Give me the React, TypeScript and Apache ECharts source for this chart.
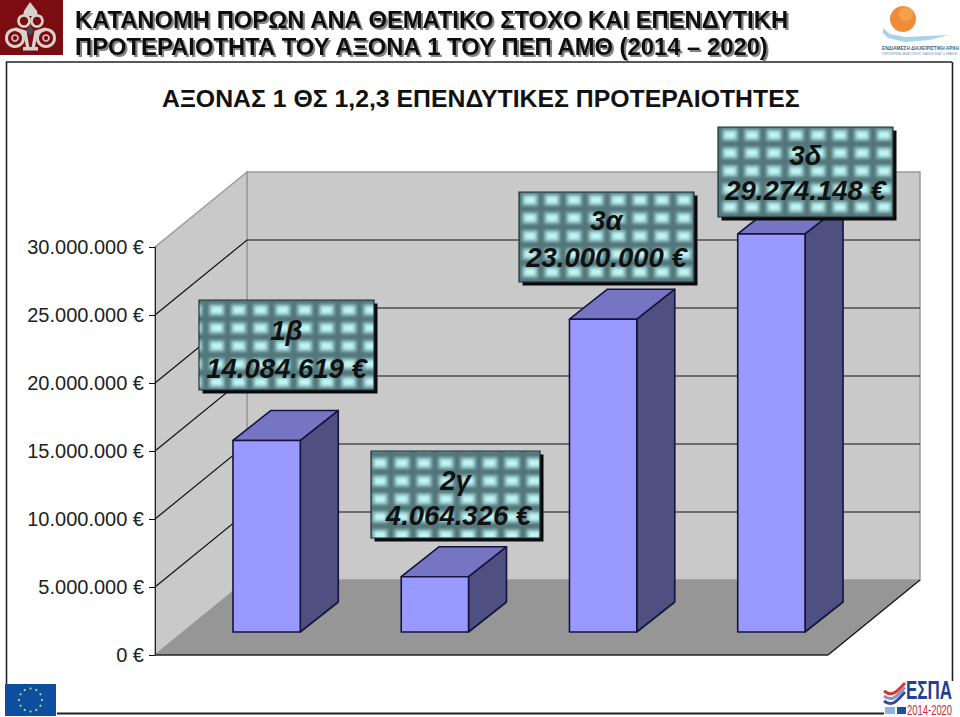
import React, { useEffect, useRef } from "react";
import * as echarts from "echarts";

const categories = ["1β", "2γ", "3α", "3δ"];
const values = [14084619, 4064326, 23000000, 29274148];
const yMax = 30000000;
const yStep = 5000000;
const yTicks = [0, 5000000, 10000000, 15000000, 20000000, 25000000, 30000000];
const headerLines = [
  "ΚΑΤΑΝΟΜΗ ΠΟΡΩΝ ΑΝΑ ΘΕΜΑΤΙΚΟ ΣΤΟΧΟ ΚΑΙ ΕΠΕΝΔΥΤΙΚΗ",
  "ΠΡΟΤΕΡΑΙΟΤΗΤΑ ΤΟΥ ΑΞΟΝΑ 1 ΤΟΥ ΠΕΠ ΑΜΘ (2014 – 2020)",
];
const chartTitle = "ΑΞΟΝΑΣ 1 ΘΣ 1,2,3 ΕΠΕΝΔΥΤΙΚΕΣ ΠΡΟΤΕΡΑΙΟΤΗΤΕΣ";
const authorityLines = ["ΕΝΔΙΑΜΕΣΗ ΔΙΑΧΕΙΡΙΣΤΙΚΗ ΑΡΧΗ", "ΠΕΡΙΦΕΡΕΙΑΣ ΑΝΑΤΟΛΙΚΗΣ ΜΑΚΕΔΟΝΙΑΣ & ΘΡΑΚΗΣ"];

// layout only: x, y, width, height, first line y, second line y, tile centre x, tile centre y, value text shift
const boxLayout = [
  [199, 300, 175, 90, 30, 68, 17.7, 10, 0],
  [371, 451, 169, 87, 29, 64, 9, 12, 3],
  [519, 192, 175, 90, 28, 65, 11, 8, 0],
  [718, 127, 175, 90, 28, 63, 12, 8, 0],
];
const SANS = '"Liberation Sans", Arial, sans-serif';
const WALL_DX = 92;
const WALL_DY = 75;
const BAR_SHIFT_X = 27.5;
const BAR_SHIFT_Y = 23;
const BAR_DX = 38;
const BAR_DY = 30;

const euro = (v: number) => `${String(v).replace(/\B(?=(\d{3})+(?!\d))/g, ".")} €`;

function makeTile(cx: number, cy: number) {
  const w = 22;
  const h = 18;
  const c = document.createElement("canvas");
  c.width = w;
  c.height = h;
  const ctx = c.getContext("2d")!;
  ctx.fillStyle = "#527679";
  ctx.fillRect(0, 0, w, h);
  ctx.filter = "blur(1.8px)";
  for (const ox of [-w, 0, w]) {
    for (const oy of [-h, 0, h]) {
      ctx.fillStyle = "#86b4b6";
      ctx.fillRect(ox + cx - 8, oy + cy - 6, 16, 12);
      ctx.fillStyle = "#bff6f6";
      ctx.fillRect(ox + cx - 5.5, oy + cy - 3.5, 11, 7);
    }
  }
  return c;
}

function ornament(): any[] {
  const ink = "#d8d2cc";
  const ring = (cx: number, cy: number, r: number, lw: number) => ({
    type: "circle",
    shape: { cx, cy, r },
    style: { fill: "none", stroke: ink, lineWidth: lw },
  });
  return [
    { type: "rect", shape: { x: 0, y: 0, width: 63, height: 55 }, style: { fill: "#7b0c12" } },
    { type: "polygon", shape: { points: [[30, 2], [37, 11], [38, 16], [23, 16], [24, 11]] }, style: { fill: ink } },
    ring(24, 21, 5.5, 2.6),
    ring(37, 21, 5.5, 2.6),
    { type: "polygon", shape: { points: [[30, 25], [34, 31], [30, 36], [26, 31]] }, style: { fill: "#4a4a4a" } },
    ring(15, 38, 8.5, 3),
    ring(46, 38, 8.5, 3),
    ring(15, 38, 3, 1.6),
    ring(46, 38, 3, 1.6),
    { type: "polyline", shape: { points: [[15, 29], [25, 32], [28, 49]] }, style: { fill: "none", stroke: ink, lineWidth: 3.4 } },
    { type: "polyline", shape: { points: [[46, 29], [36, 32], [33, 49]] }, style: { fill: "none", stroke: ink, lineWidth: 3.4 } },
    { type: "rect", shape: { x: 23, y: 47, width: 15, height: 3.5 }, style: { fill: ink } },
  ];
}

function logos(): any[] {
  const out: any[] = [...ornament()];
  // managing authority mark
  out.push(
    { type: "circle", shape: { cx: 903, cy: 19, r: 13 }, style: { fill: "#f08b3a" } },
    { type: "circle", shape: { cx: 906, cy: 14, r: 7 }, style: { fill: "#f6a04c" } },
    {
      type: "polygon",
      shape: { points: [[883, 28], [890, 34], [905, 37], [948, 35], [930, 40], [905, 42], [888, 38], [883, 33]] },
      style: { fill: "#a9d3e8" },
    },
    {
      type: "text",
      x: 882,
      y: 46,
      style: { text: authorityLines[0], font: `bold 4.7px ${SANS}`, fill: "#3a5f8a" },
    },
    {
      type: "text",
      x: 882,
      y: 52,
      style: { text: authorityLines[1], font: `3px ${SANS}`, fill: "#7d97b5" },
    }
  );
  // EU flag
  out.push({ type: "rect", shape: { x: 5, y: 684, width: 51, height: 32 }, style: { fill: "#0d4ea1" } });
  for (let i = 0; i < 12; i++) {
    const a = (i / 12) * Math.PI * 2;
    out.push({
      type: "circle",
      shape: { cx: 30.5 + 11.5 * Math.cos(a), cy: 700 + 11.5 * Math.sin(a), r: 1.1 },
      style: { fill: "#bcd86a" },
    });
  }
  // ESPA mark
  const waves = ["#d8392f", "#8f8fc4", "#2f4f9e"];
  waves.forEach((c, i) => {
    out.push({
      type: "bezierCurve",
      shape: { x1: 884, y1: 691 + i * 5, x2: 905, y2: 683 + i * 4.5, cpx1: 893, cpy1: 698 + i * 5, cpx2: 898, cpy2: 690 + i * 4.5 },
      style: { fill: "none", stroke: c, lineWidth: 3 },
    });
  });
  out.push(
    { type: "text", x: 906, y: 678, scaleX: 0.68, style: { text: "ΕΣΠΑ", font: `bold 25px ${SANS}`, fill: "#22418f" } },
    { type: "text", x: 907, y: 703, scaleX: 0.63, style: { text: "2014-2020", font: `15px ${SANS}`, fill: "#c8283a" } },
    { type: "rect", shape: { x: 885, y: 707, width: 10, height: 7 }, style: { fill: "#8fb4df" } },
    { type: "rect", shape: { x: 897, y: 707, width: 9, height: 7 }, style: { fill: "#1d4f9e" } }
  );
  // frame
  const frame = "#222222";
  out.push(
    { type: "line", shape: { x1: 6, y1: 62, x2: 952, y2: 62 }, style: { stroke: frame, lineWidth: 1.6 } },
    { type: "line", shape: { x1: 6.5, y1: 62, x2: 6.5, y2: 684 }, style: { stroke: frame, lineWidth: 1.6 } },
    { type: "line", shape: { x1: 952.5, y1: 62, x2: 952.5, y2: 681 }, style: { stroke: frame, lineWidth: 1.6 } },
    { type: "line", shape: { x1: 57, y1: 713.5, x2: 884, y2: 713.5 }, style: { stroke: frame, lineWidth: 2 } }
  );
  // header
  headerLines.forEach((t, i) => {
    out.push({
      type: "text",
      x: 75,
      y: 7 + i * 27,
      style: {
        text: t,
        font: `bold 23.8px ${SANS}`,
        fill: "#111111",
        textShadowColor: "rgba(90,90,90,0.75)",
        textShadowBlur: 1,
        textShadowOffsetX: 2,
        textShadowOffsetY: 2,
      },
    });
  });
  return out;
}

function buildOption() {
  const tiles = boxLayout.map((b) => makeTile(b[6], b[7]));
  return {
    animation: false,
    backgroundColor: "#ffffff",
    title: {
      text: chartTitle,
      left: 157,
      top: 81,
      textStyle: { fontFamily: SANS, fontSize: 24.8, fontWeight: "bold", color: "#111111" },
    },
    grid: { left: 155, top: 247, width: 673, height: 408 },
    xAxis: { type: "category", data: categories, show: false },
    yAxis: {
      type: "value",
      min: 0,
      max: yMax,
      interval: yStep,
      z: 5,
      splitLine: { show: false },
      axisLine: { show: true, lineStyle: { color: "#222222", width: 1 } },
      axisTick: { show: true, length: 6, lineStyle: { color: "#111111", width: 1 } },
      axisLabel: {
        margin: 11,
        fontFamily: SANS,
        fontSize: 20,
        color: "#222222",
        formatter: (v: number) => euro(v),
      },
    },
    graphic: { elements: logos() },
    series: [
      {
        type: "custom",
        name: "walls",
        z: 1,
        silent: true,
        data: [[0, 0]],
        renderItem: (params: any, api: any) => {
          const g = params.coordSys;
          const x0 = g.x;
          const x1 = g.x + g.width;
          const top = api.coord([0, yMax])[1];
          const bot = api.coord([0, 0])[1];
          const children: any[] = [
            {
              type: "polygon",
              shape: { points: [[x0 + WALL_DX, top - WALL_DY], [x1 + WALL_DX, top - WALL_DY], [x1 + WALL_DX, bot - WALL_DY], [x0 + WALL_DX, bot - WALL_DY]] },
              style: { fill: "#c9c9c9", stroke: "#9a9a9a", lineWidth: 1.5 },
            },
            {
              type: "polygon",
              shape: { points: [[x0, top], [x0 + WALL_DX, top - WALL_DY], [x0 + WALL_DX, bot - WALL_DY], [x0, bot]] },
              style: { fill: "#c9c9c9", stroke: "#9a9a9a", lineWidth: 1.5 },
            },
            {
              type: "polygon",
              shape: { points: [[x0, bot], [x0 + WALL_DX, bot - WALL_DY], [x1 + WALL_DX, bot - WALL_DY], [x1, bot]] },
              style: { fill: "#969696" },
            },
            { type: "line", shape: { x1: x0, y1: bot, x2: x1, y2: bot }, style: { stroke: "#222222", lineWidth: 1.6 } },
            { type: "line", shape: { x1: x1, y1: bot, x2: x1 + WALL_DX, y2: bot - WALL_DY }, style: { stroke: "#111111", lineWidth: 1.3 } },
          ];
          yTicks.forEach((t) => {
            if (t === 0 || t === yMax) return;
            const y = api.coord([0, t])[1];
            children.push({
              type: "polyline",
              shape: { points: [[x0, y], [x0 + WALL_DX, y - WALL_DY], [x1 + WALL_DX, y - WALL_DY]] },
              style: { fill: "none", stroke: "#111111", lineWidth: 1.2 },
            });
          });
          return { type: "group", children };
        },
      },
      {
        type: "custom",
        name: "bars",
        z: 2,
        data: values.map((v, i) => [i, v]),
        encode: { x: 0, y: 1 },
        renderItem: (params: any, api: any) => {
          const top = api.coord([api.value(0), api.value(1)]);
          const base = api.coord([api.value(0), 0]);
          const w = api.size([1, 0])[0] * 0.4;
          const l = top[0] + BAR_SHIFT_X - w / 2;
          const r = l + w;
          const t = top[1] - BAR_SHIFT_Y;
          const b = base[1] - BAR_SHIFT_Y;
          const edge = { stroke: "#14143c", lineWidth: 1.6, lineJoin: "round" };
          return {
            type: "group",
            children: [
              { type: "polygon", shape: { points: [[r, t], [r + BAR_DX, t - BAR_DY], [r + BAR_DX, b - BAR_DY], [r, b]] }, style: { fill: "#4f4f82", ...edge } },
              { type: "polygon", shape: { points: [[l, t], [l + BAR_DX, t - BAR_DY], [r + BAR_DX, t - BAR_DY], [r, t]] }, style: { fill: "#7575c4", ...edge } },
              { type: "rect", shape: { x: l, y: t, width: w, height: b - t }, style: { fill: "#9999ff", ...edge } },
            ],
          };
        },
      },
      {
        type: "custom",
        name: "labels",
        z: 3,
        data: values.map((v, i) => [i, v]),
        encode: { x: 0, y: 1 },
        renderItem: (params: any, api: any) => {
          const i = api.value(0);
          const [x, y, W, H, y1, y2, , , shift] = boxLayout[i];
          const font = `italic bold 27.5px ${SANS}`;
          return {
            type: "group",
            x,
            y,
            children: [
              { type: "rect", shape: { x: 3.5, y: 3.5, width: W, height: H }, style: { fill: "#0a0a0a" } },
              {
                type: "rect",
                shape: { x: 0, y: 0, width: W, height: H },
                style: { fill: { image: tiles[i], repeat: "repeat" }, stroke: "#1e3034", lineWidth: 1.2 },
              },
              { type: "text", x: W / 2, y: y1, style: { text: categories[i], font, fill: "#111111", textAlign: "center", textVerticalAlign: "middle" } },
              { type: "text", x: W / 2 + shift, y: y2, style: { text: euro(api.value(1)), font, fill: "#111111", textAlign: "center", textVerticalAlign: "middle" } },
            ],
          };
        },
      },
    ],
  };
}

export default function App() {
  const ref = useRef<HTMLDivElement>(null);
  useEffect(() => {
    document.body.style.margin = "0";
    const chart = echarts.init(ref.current!, undefined, { renderer: "svg" });
    chart.setOption(buildOption() as any);
    return () => chart.dispose();
  }, []);
  return <div ref={ref} style={{ width: 960, height: 717 }} />;
}
